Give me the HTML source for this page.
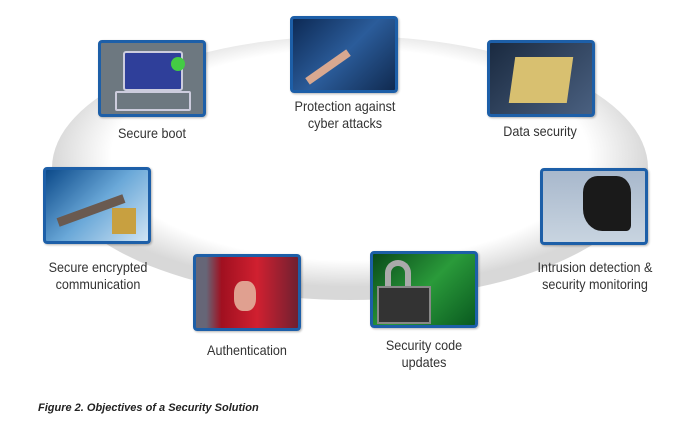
<!DOCTYPE html>
<html><head><style>
body{margin:0;width:700px;height:441px;background:#fff;position:relative;overflow:hidden;font-family:"Liberation Sans",sans-serif}
.b{position:absolute;width:102px;height:71px;border:3px solid #1d5fa8;border-radius:4px;box-shadow:1px 1px 2px rgba(0,0,0,.3)}
.t{position:absolute;font-size:14px;color:#333;text-align:center;line-height:17px;transform:scaleX(.9);white-space:nowrap}
</style></head><body>
<svg width="700" height="441" style="position:absolute;left:0;top:0">
<defs><radialGradient id="g" cx="50%" cy="45%" r="50%"><stop offset="80%" stop-color="#fff"/><stop offset="100%" stop-color="#d8d8d8"/></radialGradient></defs>
<ellipse cx="350" cy="168" rx="298" ry="132" fill="url(#g)"/>
</svg>
<div class="b" style="left:98px;top:40px;background:#6d7880">
 <div style="position:absolute;left:22px;top:8px;width:56px;height:36px;border:2px solid #ccd;border-radius:3px;background:#2f3f9a"></div>
 <div style="position:absolute;left:14px;top:48px;width:72px;height:16px;border:2px solid #ccd;border-radius:2px"></div>
 <div style="position:absolute;left:70px;top:14px;width:14px;height:14px;border-radius:50%;background:#4c4"></div>
</div>
<div class="t" style="left:98px;top:125px;width:108px">Secure boot</div>
<div class="b" style="left:290px;top:16px;background:linear-gradient(135deg,#0d2a55,#2b5c9a 50%,#102a50)">
 <div style="position:absolute;left:10px;top:44px;width:50px;height:8px;background:#d8a890;transform:rotate(-35deg)"></div>
</div>
<div class="t" style="left:260px;top:98px;width:170px">Protection against<br>cyber attacks</div>
<div class="b" style="left:487px;top:40px;background:linear-gradient(135deg,#1a2a40,#4a6080)">
 <div style="position:absolute;left:22px;top:14px;width:58px;height:46px;background:#d8c070;transform:skewX(-8deg)"></div>
</div>
<div class="t" style="left:480px;top:123px;width:120px">Data security</div>
<div class="b" style="left:43px;top:167px;background:linear-gradient(135deg,#0c4a8a,#6aa8d8 50%,#d0e4f4)">
 <div style="position:absolute;left:10px;top:36px;width:70px;height:9px;background:#6a5a50;transform:rotate(-20deg)"></div>
 <div style="position:absolute;left:66px;top:38px;width:24px;height:26px;background:#c8a040"></div>
</div>
<div class="t" style="left:20px;top:259px;width:156px">Secure encrypted<br>communication</div>
<div class="b" style="left:540px;top:168px;background:linear-gradient(180deg,#a8b8cc,#c8d4e0)">
 <div style="position:absolute;left:40px;top:5px;width:48px;height:55px;background:#1a1a1a;border-radius:30% 30% 10% 40%"></div>
</div>
<div class="t" style="left:510px;top:259px;width:170px">Intrusion detection &amp;<br>security monitoring</div>
<div class="b" style="left:193px;top:254px;background:linear-gradient(90deg,#667 10%,#a01020 25%,#d02030 60%,#702030)">
 <div style="position:absolute;left:38px;top:24px;width:22px;height:30px;background:#e0a090;border-radius:40%"></div>
</div>
<div class="t" style="left:180px;top:342px;width:134px">Authentication</div>
<div class="b" style="left:370px;top:251px;background:linear-gradient(135deg,#0a4a1a,#2a9a3a 50%,#0a5a20)">
 <div style="position:absolute;left:12px;top:6px;width:26px;height:28px;border:6px solid #aaa;border-bottom:none;border-radius:14px 14px 0 0;box-sizing:border-box"></div>
 <div style="position:absolute;left:4px;top:32px;width:50px;height:34px;background:#333;border:2px solid #888"></div>
</div>
<div class="t" style="left:360px;top:337px;width:128px">Security code<br>updates</div>
<div style="position:absolute;left:38px;top:402px;font-size:11px;font-weight:bold;font-style:italic;color:#222">Figure 2. Objectives of a Security Solution</div>
</body></html>
